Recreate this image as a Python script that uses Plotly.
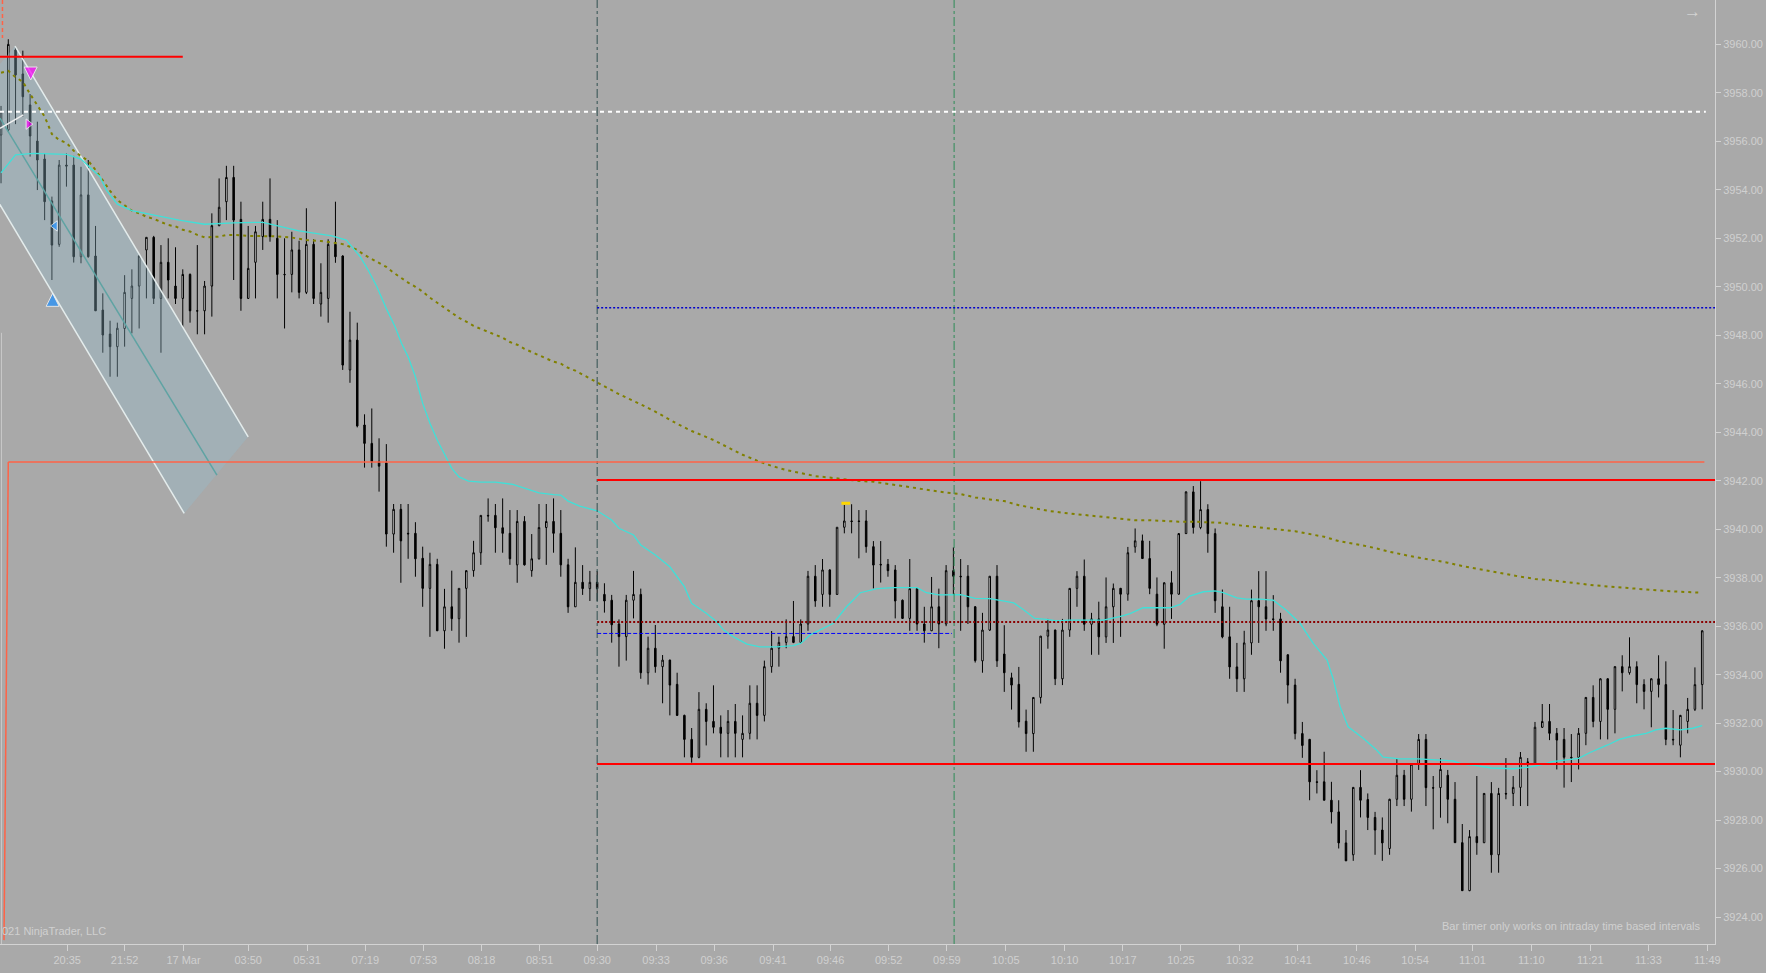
import plotly.graph_objects as go

# Velas (indice de barra 0..234), precios
opens = [
    3956.26, 3956.47, 3959.77, 3958.78, 3957.50, 3956.01, 3955.27, 3953.54, 3951.75, 3955.02,
    3955.02, 3951.24, 3953.79, 3951.27, 3949.04, 3948.05, 3947.53, 3948.28, 3949.52, 3950.03,
    3951.52, 3952.04, 3949.52, 3951.01, 3950.03, 3949.52, 3950.51, 3949.01, 3949.01, 3950.03,
    3952.52, 3953.51, 3954.51, 3952.78, 3949.52, 3951.01, 3952.07, 3952.78, 3952.00, 3950.51,
    3950.51, 3951.52, 3949.77, 3951.75, 3949.29, 3949.52, 3951.75, 3951.27, 3946.57, 3947.80,
    3944.30, 3943.54, 3942.80, 3942.74, 3939.80, 3940.82, 3939.83, 3939.83, 3938.80, 3937.56,
    3938.55, 3935.81, 3936.80, 3936.31, 3937.56, 3938.29, 3939.03, 3940.57, 3940.57, 3940.06,
    3939.83, 3938.53, 3940.32, 3938.29, 3938.78, 3940.07, 3940.32, 3939.83, 3938.53, 3936.80,
    3937.81, 3937.55, 3937.81, 3937.31, 3937.07, 3936.09, 3935.57, 3937.07, 3937.31, 3934.08,
    3935.09, 3934.33, 3934.60, 3933.60, 3932.32, 3931.33, 3930.59, 3932.57, 3932.07, 3931.83,
    3931.58, 3932.07, 3931.33, 3931.58, 3932.82, 3932.32, 3934.33, 3935.09, 3935.33, 3935.57,
    3935.33, 3936.09, 3938.06, 3937.31, 3938.32, 3937.31, 3940.08, 3940.34, 3940.34, 3940.34,
    3939.28, 3938.55, 3938.55, 3938.32, 3937.07, 3936.32, 3937.55, 3936.09, 3935.81, 3936.80,
    3936.09, 3938.29, 3938.06, 3938.06, 3936.80, 3934.57, 3935.84, 3938.06, 3934.85, 3933.87,
    3933.60, 3932.08, 3931.57, 3933.06, 3935.59, 3935.84, 3933.83, 3935.84, 3937.56, 3938.06,
    3936.08, 3936.30, 3935.56, 3936.80, 3937.56, 3937.32, 3939.27, 3939.52, 3938.79, 3937.32,
    3936.08, 3937.79, 3937.32, 3939.82, 3941.54, 3940.07, 3940.81, 3939.82, 3936.80, 3935.56,
    3934.32, 3933.83, 3935.31, 3937.05, 3936.80, 3936.30, 3936.30, 3934.82, 3933.57, 3931.57,
    3931.33, 3929.58, 3929.58, 3928.82, 3928.34, 3927.06, 3926.57, 3929.35, 3928.85, 3928.11,
    3927.59, 3926.83, 3928.86, 3929.85, 3928.86, 3930.31, 3931.33, 3929.34, 3929.34, 3929.85,
    3928.86, 3927.07, 3925.09, 3927.32, 3927.07, 3929.10, 3926.57, 3929.10, 3929.10, 3929.35,
    3930.40, 3930.31, 3931.83, 3932.07, 3931.58, 3931.33, 3930.59, 3930.59, 3931.58, 3933.06,
    3932.07, 3933.83, 3932.57, 3934.33, 3934.08, 3934.33, 3933.59, 3933.31, 3933.83, 3933.59,
    3931.33, 3931.09, 3932.07, 3932.57, 3933.59,
]
highs = [
    3957.46, 3960.21, 3959.90, 3959.74, 3957.95, 3956.81, 3955.50, 3953.72, 3955.23, 3955.50,
    3955.40, 3954.95, 3955.23, 3952.51, 3949.73, 3948.60, 3948.52, 3950.48, 3950.72, 3951.31,
    3952.04, 3952.10, 3951.72, 3952.00, 3951.63, 3950.72, 3950.55, 3951.72, 3950.24, 3953.03,
    3954.47, 3954.99, 3954.99, 3953.51, 3952.51, 3952.51, 3953.51, 3954.47, 3952.75, 3952.00,
    3952.27, 3951.90, 3953.24, 3951.96, 3950.97, 3951.96, 3953.51, 3951.30, 3948.97, 3948.52,
    3944.74, 3944.98, 3943.75, 3943.51, 3941.04, 3941.04, 3941.04, 3940.29, 3939.28, 3939.03,
    3938.78, 3937.54, 3938.29, 3937.56, 3938.30, 3939.52, 3940.57, 3941.27, 3941.04, 3941.27,
    3940.79, 3940.79, 3940.54, 3939.80, 3941.04, 3941.04, 3941.27, 3940.79, 3938.78, 3939.25,
    3938.52, 3938.28, 3938.28, 3937.77, 3937.29, 3936.28, 3937.29, 3938.28, 3937.55, 3935.57,
    3936.05, 3934.81, 3934.62, 3934.08, 3932.35, 3931.80, 3933.28, 3932.82, 3933.56, 3932.32,
    3932.54, 3932.79, 3932.32, 3933.56, 3933.56, 3934.58, 3935.80, 3935.57, 3936.28, 3937.04,
    3936.28, 3938.28, 3938.52, 3938.77, 3938.35, 3940.08, 3941.00, 3941.03, 3940.79, 3940.79,
    3939.51, 3939.51, 3938.77, 3938.52, 3937.10, 3938.77, 3937.58, 3936.80, 3938.03, 3937.55,
    3938.52, 3939.25, 3938.77, 3938.52, 3936.83, 3936.55, 3938.06, 3938.52, 3936.04, 3934.08,
    3934.32, 3932.56, 3933.06, 3935.59, 3936.30, 3935.86, 3936.30, 3937.56, 3938.27, 3938.75,
    3936.55, 3937.01, 3938.01, 3937.76, 3937.58, 3939.27, 3940.03, 3939.78, 3939.52, 3938.01,
    3937.81, 3938.27, 3939.84, 3941.56, 3941.78, 3941.98, 3941.03, 3940.03, 3937.51, 3936.80,
    3935.31, 3935.81, 3937.51, 3938.27, 3938.27, 3937.28, 3936.55, 3934.84, 3933.83, 3932.05,
    3931.35, 3930.06, 3930.82, 3929.58, 3928.82, 3927.59, 3929.35, 3930.06, 3929.10, 3928.34,
    3928.11, 3928.88, 3930.56, 3930.07, 3930.33, 3931.55, 3931.55, 3929.82, 3930.56, 3930.07,
    3929.57, 3927.84, 3927.59, 3929.82, 3929.12, 3929.57, 3929.33, 3930.56, 3929.82, 3930.81,
    3930.56, 3932.05, 3932.79, 3932.79, 3931.80, 3931.80, 3931.55, 3931.80, 3933.08, 3933.56,
    3933.85, 3933.85, 3934.35, 3934.80, 3935.54, 3934.55, 3933.81, 3933.85, 3934.80, 3934.55,
    3932.54, 3932.34, 3933.04, 3934.30, 3935.83,
]
lows = [
    3954.27, 3956.40, 3956.71, 3957.02, 3955.37, 3953.99, 3952.75, 3950.28, 3951.65, 3954.13,
    3951.00, 3950.97, 3951.20, 3949.00, 3947.28, 3946.29, 3946.29, 3947.53, 3948.08, 3948.28,
    3949.52, 3949.29, 3947.28, 3949.52, 3949.29, 3948.35, 3948.52, 3948.04, 3948.04, 3948.77,
    3952.50, 3952.75, 3950.28, 3949.01, 3949.50, 3949.52, 3951.52, 3951.86, 3949.52, 3948.28,
    3949.77, 3949.52, 3949.70, 3949.29, 3948.77, 3948.52, 3950.99, 3946.57, 3946.04, 3944.20,
    3942.54, 3942.54, 3941.55, 3939.28, 3939.03, 3937.79, 3938.78, 3938.04, 3936.80, 3935.56,
    3935.80, 3935.07, 3935.81, 3935.32, 3935.56, 3938.04, 3938.53, 3940.31, 3939.03, 3939.03,
    3938.53, 3937.79, 3938.50, 3938.04, 3938.75, 3938.53, 3939.03, 3938.04, 3936.55, 3936.80,
    3937.29, 3937.04, 3937.04, 3936.56, 3935.32, 3934.33, 3934.58, 3936.32, 3933.83, 3933.59,
    3934.08, 3932.82, 3932.32, 3932.30, 3930.59, 3930.37, 3930.55, 3931.08, 3931.58, 3930.59,
    3930.59, 3930.59, 3930.59, 3931.33, 3931.33, 3932.07, 3934.08, 3934.33, 3935.09, 3935.30,
    3935.30, 3935.81, 3936.80, 3936.80, 3936.80, 3937.29, 3939.83, 3939.83, 3938.80, 3939.03,
    3937.56, 3937.80, 3938.04, 3936.32, 3936.30, 3935.81, 3935.81, 3935.32, 3935.80, 3935.09,
    3936.00, 3937.29, 3935.81, 3936.09, 3934.50, 3934.08, 3935.80, 3934.32, 3933.29, 3932.56,
    3931.82, 3930.82, 3930.82, 3932.81, 3935.07, 3933.57, 3933.57, 3935.56, 3936.80, 3935.81,
    3934.82, 3934.82, 3935.31, 3935.31, 3935.56, 3937.05, 3939.03, 3938.79, 3937.32, 3936.00,
    3935.07, 3936.30, 3937.30, 3939.80, 3939.82, 3940.00, 3939.03, 3936.55, 3935.50, 3933.83,
    3933.29, 3933.29, 3934.82, 3935.31, 3935.81, 3935.81, 3934.08, 3932.81, 3931.33, 3930.57,
    3928.82, 3929.10, 3928.82, 3927.86, 3926.83, 3926.32, 3926.32, 3928.11, 3927.59, 3926.57,
    3926.32, 3926.57, 3928.58, 3928.58, 3928.35, 3930.07, 3928.58, 3927.62, 3928.10, 3927.87,
    3927.07, 3925.09, 3925.07, 3926.57, 3927.05, 3925.83, 3925.83, 3928.86, 3928.58, 3928.58,
    3928.58, 3930.30, 3931.80, 3931.30, 3930.09, 3929.34, 3929.57, 3930.09, 3931.09, 3931.83,
    3931.33, 3931.33, 3931.58, 3933.31, 3934.00, 3932.82, 3932.57, 3931.83, 3933.06, 3931.09,
    3931.09, 3930.59, 3931.58, 3932.50, 3932.57,
]
closes = [
    3957.22, 3960.00, 3958.74, 3957.84, 3956.22, 3955.23, 3953.51, 3951.72, 3955.02, 3954.98,
    3951.24, 3953.79, 3951.24, 3949.01, 3948.01, 3947.53, 3948.29, 3949.77, 3950.03, 3951.27,
    3952.04, 3949.52, 3951.01, 3950.28, 3949.52, 3950.51, 3949.01, 3949.00, 3950.03, 3952.52,
    3953.28, 3954.51, 3952.75, 3949.52, 3950.76, 3952.27, 3952.78, 3952.07, 3950.51, 3950.50,
    3951.52, 3949.77, 3951.75, 3949.52, 3949.77, 3951.75, 3951.24, 3946.77, 3947.80, 3944.26,
    3943.54, 3942.78, 3942.60, 3939.80, 3940.82, 3939.52, 3939.81, 3938.78, 3937.56, 3938.55,
    3935.81, 3936.80, 3936.31, 3937.56, 3938.29, 3939.03, 3940.57, 3940.55, 3940.06, 3939.83,
    3938.78, 3940.32, 3938.53, 3938.78, 3940.07, 3940.32, 3939.83, 3938.53, 3936.80, 3937.81,
    3937.55, 3937.81, 3937.55, 3937.04, 3936.06, 3935.57, 3937.07, 3937.31, 3934.08, 3935.09,
    3934.33, 3934.60, 3933.57, 3932.32, 3931.33, 3930.59, 3932.57, 3932.07, 3931.83, 3931.58,
    3932.07, 3931.58, 3931.58, 3932.82, 3932.32, 3934.33, 3935.09, 3935.33, 3935.57, 3935.33,
    3936.09, 3938.06, 3937.04, 3938.32, 3937.31, 3940.08, 3940.34, 3940.32, 3940.32, 3939.28,
    3938.52, 3938.53, 3938.29, 3937.04, 3936.32, 3937.55, 3936.09, 3935.81, 3936.80, 3936.09,
    3938.29, 3938.06, 3938.04, 3936.80, 3934.58, 3935.84, 3938.06, 3934.57, 3934.08, 3933.57,
    3932.05, 3931.57, 3933.06, 3935.59, 3935.84, 3933.83, 3935.84, 3937.56, 3938.06, 3936.08,
    3936.30, 3935.56, 3936.80, 3937.56, 3937.32, 3939.03, 3939.52, 3938.79, 3937.56, 3936.08,
    3937.79, 3937.32, 3939.82, 3941.54, 3940.07, 3940.81, 3939.82, 3937.05, 3935.56, 3934.32,
    3933.83, 3935.31, 3937.05, 3936.80, 3936.30, 3936.28, 3934.57, 3933.57, 3931.57, 3931.08,
    3929.58, 3929.56, 3928.82, 3928.34, 3927.06, 3926.32, 3929.35, 3928.82, 3928.11, 3927.59,
    3927.06, 3928.86, 3929.85, 3928.86, 3930.31, 3931.33, 3929.34, 3929.32, 3930.09, 3928.86,
    3927.07, 3925.09, 3927.32, 3927.07, 3929.10, 3926.57, 3929.10, 3929.08, 3929.35, 3930.59,
    3930.38, 3931.83, 3932.07, 3931.58, 3931.30, 3930.59, 3930.57, 3931.58, 3933.06, 3932.07,
    3933.83, 3932.57, 3934.33, 3934.08, 3934.33, 3933.59, 3933.31, 3933.83, 3933.59, 3931.33,
    3931.31, 3932.32, 3932.57, 3933.59, 3935.81,
]
bar_idx = list(range(len(opens)))

# Media rapida (cian)
cyan_x = [0, 2, 4.5, 9, 11, 13.6, 14.5, 16, 18, 21.5, 24.5, 28, 32, 36, 41, 45.5, 47.5, 49.4,
          50.5, 51.7, 53, 54.2, 55.1, 56, 57, 58, 59, 60, 61.3, 62, 63, 64.3, 66, 68, 70.4,
          72.7, 74, 76, 77, 78, 79.6, 82, 84, 85, 87, 88, 90, 92, 94, 95, 97, 98.4, 99.4,
          100.7, 102.6, 104.4, 106.7, 109, 110, 111.3, 113, 114.5, 116.3, 118.2, 120.5, 122.8,
          126, 127.3, 129, 132, 134, 136, 138, 139.3, 140.6, 142.2, 143.8, 145.2, 147, 151.6,
          153.9, 155.3, 157.1, 159, 160.8, 162.2, 163.5, 165.4, 167, 168.1, 170, 171.3, 173.2,
          175, 176.8, 178.7, 180.5, 182.4, 183.3, 184.2, 185.3, 187.4, 189.2, 190.1, 192.4, 195,
          198, 199.7, 201, 203, 205, 208, 210, 212, 213.4, 215.3, 217, 218.5, 220, 221, 222.6,
          224.4, 226.3, 227.6, 229, 231, 232.7, 234]
cyan_y = [3954.70, 3955.44, 3955.50, 3955.46, 3955.27, 3954.54, 3953.99, 3953.41, 3953.14,
          3952.92, 3952.75, 3952.58, 3952.64, 3952.66, 3952.31, 3952.10, 3951.93, 3951.24,
          3950.69, 3950.00, 3949.10, 3948.35, 3947.66, 3947.11, 3946.29, 3945.19, 3944.37,
          3943.68, 3942.92, 3942.51, 3942.16, 3941.98, 3941.94, 3941.94, 3941.85, 3941.64,
          3941.50, 3941.43, 3941.41, 3941.16, 3940.95, 3940.76, 3940.38, 3940.04, 3939.76,
          3939.35, 3938.94, 3938.45, 3937.63, 3936.94, 3936.53, 3936.19, 3935.84, 3935.57,
          3935.26, 3935.15, 3935.15, 3935.20, 3935.29, 3935.64, 3935.91, 3936.12, 3936.80,
          3937.38, 3937.55, 3937.59, 3937.59, 3937.38, 3937.29, 3937.30, 3937.15, 3937.14,
          3937.03, 3936.96, 3936.69, 3936.32, 3936.28, 3936.22, 3936.25, 3936.25, 3936.39,
          3936.52, 3936.76, 3936.76, 3936.76, 3936.90, 3937.24, 3937.42, 3937.46, 3937.38,
          3937.17, 3937.12, 3937.12, 3937.07, 3936.66, 3936.11, 3935.29, 3934.60, 3933.77,
          3932.67, 3931.85, 3931.37, 3930.89, 3930.60, 3930.53, 3930.53, 3930.48, 3930.44,
          3930.31, 3930.25, 3930.15, 3930.12, 3930.18, 3930.29, 3930.41, 3930.48, 3930.55,
          3930.78, 3930.96, 3931.10, 3931.33, 3931.47, 3931.58, 3931.72, 3931.79, 3931.72,
          3931.79, 3931.90]

# Media lenta (oliva punteada)
olive_x = [0, 1, 2, 3, 4, 5, 6, 7, 8, 9, 10, 11, 12, 13, 14, 15, 16, 17, 18, 19, 20, 21, 22,
           23, 24, 25, 26, 27, 28, 29, 30, 31, 32, 34, 38, 40, 42, 44, 46, 47, 48, 49, 50, 51,
           52, 53, 54, 55, 56, 57, 58, 59, 60, 61, 62, 63, 64, 65, 66, 67, 68, 69, 70, 71, 72,
           73, 74, 75, 76, 77, 78, 79, 82, 85, 88, 90, 93, 95, 98, 100, 102, 104, 106, 108, 110,
           112, 114, 116, 118, 120, 122, 124, 126, 128, 130, 132, 134, 136, 138, 140, 142, 144,
           146, 148, 150, 152, 154, 156, 158, 160, 162, 164, 166, 168, 170, 172, 174, 176, 178,
           180, 182, 184, 186, 188, 190, 191, 194, 197, 199, 201, 203, 205, 207, 209, 211, 213,
           215, 217, 219, 221, 223, 225, 227, 229, 231, 233, 234]
olive_y = [3958.83, 3958.91, 3958.64, 3958.46, 3957.95, 3957.50, 3957.02, 3956.30, 3956.05,
           3955.94, 3955.61, 3955.39, 3955.20, 3954.82, 3954.38, 3953.96, 3953.58, 3953.35,
           3953.14, 3953.03, 3952.89, 3952.80, 3952.69, 3952.55, 3952.49, 3952.35, 3952.28,
           3952.14, 3952.04, 3952.04, 3952.07, 3952.14, 3952.14, 3952.10, 3952.08, 3952.03,
           3951.93, 3951.89, 3951.82, 3951.76, 3951.65, 3951.52, 3951.31, 3951.14, 3951.00,
           3950.82, 3950.58, 3950.37, 3950.17, 3950.00, 3949.80, 3949.55, 3949.34, 3949.14,
           3948.93, 3948.72, 3948.56, 3948.39, 3948.26, 3948.13, 3948.01, 3947.90, 3947.72,
           3947.61, 3947.44, 3947.31, 3947.18, 3947.03, 3946.91, 3946.83, 3946.66, 3946.54,
           3946.05, 3945.57, 3945.15, 3944.85, 3944.35, 3944.05, 3943.68, 3943.39, 3943.07,
           3942.83, 3942.61, 3942.44, 3942.30, 3942.19, 3942.13, 3942.05, 3941.99, 3941.96,
           3941.87, 3941.80, 3941.71, 3941.59, 3941.51, 3941.45, 3941.31, 3941.23, 3941.16,
           3940.99, 3940.87, 3940.76, 3940.68, 3940.62, 3940.54, 3940.47, 3940.42, 3940.37,
           3940.37, 3940.33, 3940.31, 3940.31, 3940.28, 3940.26, 3940.17, 3940.10, 3940.06,
           3939.99, 3939.92, 3939.80, 3939.69, 3939.51, 3939.41, 3939.29, 3939.15, 3939.07,
           3938.88, 3938.73, 3938.62, 3938.48, 3938.36, 3938.25, 3938.15, 3938.04, 3937.95,
           3937.90, 3937.82, 3937.74, 3937.69, 3937.64, 3937.59, 3937.57, 3937.51, 3937.45,
           3937.42, 3937.38, 3937.38]

# Canal de regresion (arriba, abajo, medio): (barra, precio)
chan_upper = [(1.93, 3959.93), (34.0, 3943.81)]
chan_lower = [(-6.88, 3956.77), (25.2, 3940.65)]
chan_mid = [(-0.14, 3956.96), (29.7, 3942.23)]

# Niveles horizontales
white_level = 3957.22
top_red_level = 3959.49
tomato_level = 3942.77
red_levels = [3942.03, 3930.32]
darkred_level = 3936.17
blue_level = 3949.14
blue_short_level = 3935.70
session_bars = [82.0, 131.1]

# Marcadores
mark_x = [4.08, 3.76, 7.43, 7.1]
mark_y = [3958.53, 3956.71, 3952.51, 3949.73]
mark_sym = ["arrow-down", "triangle-right", "triangle-left", "arrow-up"]
mark_col = ["#ff00ff", "#ff00ff", "#1e90ff", "#1e90ff"]
yellow_x = [115.6, 116.8]
yellow_y = [3941.07, 3941.07]

# Eje x
tick_pos = [9.1, 17.0, 25.1, 34.0, 42.1, 50.1, 58.1, 66.1, 74.1, 82.0, 90.1, 98.1, 106.2,
            114.1, 122.1, 130.1, 138.2, 146.3, 154.3, 162.3, 170.4, 178.4, 186.5, 194.5,
            202.4, 210.5, 218.6, 226.6, 234.7]
tick_text = ["20:35", "21:52", "17 Mar", "03:50", "05:31", "07:19", "07:53", "08:18", "08:51",
             "09:30", "09:33", "09:36", "09:41", "09:46", "09:52", "09:59", "10:05", "10:10",
             "10:17", "10:25", "10:32", "10:41", "10:46", "10:54", "11:01", "11:10", "11:21",
             "11:33", "11:49"]

X_MIN, X_MAX = -0.14, 235.76
Y_MIN, Y_MAX = 3922.89, 3961.83
BG = "#a9a9a9"
TXT = "#d0d0d0"
FONT = "Liberation Sans, Arial, sans-serif"

fig = go.Figure()

# canal relleno
fig.add_trace(go.Scatter(
    x=[chan_upper[0][0], chan_upper[1][0], chan_lower[1][0], chan_lower[0][0]],
    y=[chan_upper[0][1], chan_upper[1][1], chan_lower[1][1], chan_lower[0][1]],
    fill="toself", fillcolor="rgba(150,188,205,0.35)", line=dict(width=0),
    mode="lines", hoverinfo="skip", showlegend=False))
for seg, col in [(chan_upper, "#e4ecec"), (chan_lower, "#e4ecec"), (chan_mid, "#5fa3a3")]:
    fig.add_trace(go.Scatter(x=[p[0] for p in seg], y=[p[1] for p in seg], mode="lines",
                             line=dict(color=col, width=1.5), hoverinfo="skip", showlegend=False))

fig.add_trace(go.Candlestick(
    x=bar_idx, open=opens, high=highs, low=lows, close=closes,
    increasing=dict(line=dict(color="black", width=1), fillcolor="white"),
    decreasing=dict(line=dict(color="black", width=1), fillcolor="black"),
    whiskerwidth=0, showlegend=False))

fig.add_trace(go.Scatter(x=olive_x, y=olive_y, mode="lines",
                         line=dict(color="#808000", width=2, dash="3px,4px"),
                         hoverinfo="skip", showlegend=False))
fig.add_trace(go.Scatter(x=cyan_x, y=cyan_y, mode="lines",
                         line=dict(color="#40e0d8", width=1.3),
                         hoverinfo="skip", showlegend=False))

fig.add_trace(go.Scatter(x=mark_x, y=mark_y, mode="markers",
                         marker=dict(symbol=mark_sym, color=mark_col, size=[13, 9, 9, 13]),
                         hoverinfo="skip", showlegend=False))
# marca amarilla
fig.add_trace(go.Scatter(x=yellow_x, y=yellow_y, mode="lines",
                         line=dict(color="#ffd700", width=3),
                         hoverinfo="skip", showlegend=False))

# linea blanca diagonal corta
fig.add_trace(go.Scatter(x=[-0.14, 3.07], y=[3956.54, 3957.09], mode="lines",
                         line=dict(color="#f0f0f0", width=1.5), hoverinfo="skip", showlegend=False))

shapes = []
# lineas verticales de sesion
shapes.append(dict(type="line", xref="x", yref="paper", x0=session_bars[0], x1=session_bars[0],
                   y0=0, y1=1, line=dict(color="#2f4f4f", width=1, dash="dashdot")))
shapes.append(dict(type="line", xref="x", yref="paper", x0=session_bars[1], x1=session_bars[1],
                   y0=0, y1=1, line=dict(color="#2e8b57", width=1, dash="dashdot")))
# linea gris del borde izquierdo
shapes.append(dict(type="line", xref="x", yref="y", x0=0.07, x1=0.07, y0=3948.1, y1=Y_MIN,
                   line=dict(color="#c8c8c8", width=1)))
# blanca punteada
shapes.append(dict(type="line", xref="x", yref="y", x0=X_MIN, x1=234.5, y0=white_level,
                   y1=white_level, line=dict(color="white", width=2, dash="4px,4px")))
# roja corta arriba
shapes.append(dict(type="line", xref="x", yref="y", x0=X_MIN, x1=25.0, y0=top_red_level,
                   y1=top_red_level, line=dict(color="#ff0000", width=2)))
# tomate
shapes.append(dict(type="line", xref="x", yref="y", x0=1.0, x1=234.3, y0=tomato_level,
                   y1=tomato_level, line=dict(color="#ff6347", width=1.5)))
shapes.append(dict(type="line", xref="x", yref="y", x0=1.0, x1=0.41, y0=tomato_level,
                   y1=3923.05, line=dict(color="#ff6347", width=1.5)))
shapes.append(dict(type="line", xref="x", yref="y", x0=0.2, x1=0.2, y0=Y_MAX, y1=3960.26,
                   line=dict(color="#ff6347", width=1.5, dash="4px,3px")))
# niveles desde 09:30
for lv in red_levels:
    shapes.append(dict(type="line", xref="x", yref="y", x0=session_bars[0], x1=X_MAX, y0=lv,
                       y1=lv, line=dict(color="#ff0000", width=2)))
shapes.append(dict(type="line", xref="x", yref="y", x0=session_bars[0], x1=X_MAX,
                   y0=darkred_level, y1=darkred_level,
                   line=dict(color="#8b0000", width=2, dash="2px,2px")))
shapes.append(dict(type="line", xref="x", yref="y", x0=session_bars[0], x1=X_MAX,
                   y0=blue_level, y1=blue_level,
                   line=dict(color="#0000cd", width=1.5, dash="2px,2px")))
shapes.append(dict(type="line", xref="x", yref="y", x0=session_bars[0], x1=130.8,
                   y0=blue_short_level, y1=blue_short_level,
                   line=dict(color="#0000ff", width=1, dash="4px,2px")))

fig.update_layout(
    width=1766, height=973,
    margin=dict(l=0, r=51, t=0, b=29),
    paper_bgcolor=BG, plot_bgcolor=BG,
    font=dict(family=FONT, color=TXT, size=11),
    shapes=shapes,
    boxgap=0.7,
    showlegend=False,
    xaxis=dict(range=[X_MIN, X_MAX], rangeslider=dict(visible=False), showgrid=False,
               zeroline=False, showline=True, linecolor="#d3d3d3", linewidth=1,
               ticks="outside", ticklen=6, tickcolor="#d3d3d3",
               tickvals=tick_pos, ticktext=tick_text, tickfont=dict(size=11, color=TXT)),
    yaxis=dict(range=[Y_MIN, Y_MAX], side="right", showgrid=False, zeroline=False,
               showline=True, linecolor="#d3d3d3", linewidth=1, ticks="outside", ticklen=5,
               tickcolor="#d3d3d3", tick0=3924, dtick=2, tickformat=".2f",
               tickfont=dict(size=11, color=TXT)),
    annotations=[
        dict(text="021 NinjaTrader, LLC", xref="paper", yref="paper", x=0, y=1 - 931 / 944,
             xanchor="left", yanchor="middle", showarrow=False, font=dict(size=11, color=TXT)),
        dict(text="Bar timer only works on intraday time based intervals", xref="paper",
             yref="paper", x=1702 / 1715, y=1 - 926 / 944, xanchor="right", yanchor="middle",
             showarrow=False, font=dict(size=11, color=TXT)),
        dict(text="→", xref="paper", yref="paper", x=1692 / 1715, y=1 - 11 / 944,
             xanchor="center", yanchor="middle", showarrow=False,
             font=dict(size=17, color="#d3d3d3")),
    ],
)

# sin margen del body y sin barra de herramientas
fig.write_html("out.html", config={"displayModeBar": False},
               post_script="document.body.style.margin='0';")
